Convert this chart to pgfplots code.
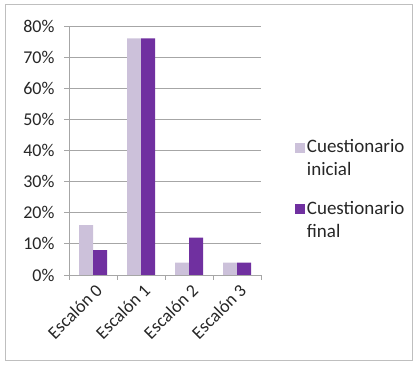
\documentclass[border=0pt]{standalone}
\usepackage{fontspec}
\setmainfont{Carlito}
\usepackage{pgfplots}
\pgfplotsset{compat=1.18}
\definecolor{inicial}{HTML}{CCC1DA}
\definecolor{final}{HTML}{7030A0}
\definecolor{gridgray}{HTML}{A6A6A6}
\definecolor{framegray}{HTML}{BFBFBF}

\begin{document}
\begin{tikzpicture}[x=1pt,y=1pt]
\path[use as bounding box] (0,0) rectangle (417,366);
\draw[framegray, line width=1pt] (5,5) rectangle (412,361);
\begin{axis}[
  at={(69pt,91pt)}, anchor=south west,
  scale only axis, width=192pt, height=249pt,
  xmin=-0.5, xmax=3.5, ymin=0, ymax=80,
  axis x line*=bottom, axis y line*=left,
  axis line style={gridgray,-},
  /pgf/number format/assume math mode=true,
  ytick={0,10,...,80},
  yticklabel={\pgfmathprintnumber{\tick}\%},
  ymajorgrids, grid style={gridgray, line width=0.8pt},
  xtick={0,1,2,3},
  xticklabels={Escalón 0, Escalón 1, Escalón 2, Escalón 3},
  minor xtick={-0.5,0.5,1.5,2.5,3.5},
  tick align=outside,
  major tick length=5pt, minor tick length=5pt,
  major x tick style={draw=none},
  tick style={gridgray, line width=0.8pt},
  minor tick style={gridgray, line width=0.8pt},
  ticklabel style={font=\fontsize{18}{20}\selectfont, text=black!85},
  yticklabel style={xshift=-6pt},
  xticklabel style={rotate=45, anchor=north east, inner sep=1pt, yshift=-2pt},
  ybar, bar width=14pt,
  legend style={draw=none, fill=none, at={(1.16,0.56)}, anchor=north west,
    font=\fontsize{19}{23}\selectfont, text=black!85,
    nodes={align=left, anchor=west},
    row sep=20pt},
  legend cell align=left,
  legend image code/.code={\fill[#1,draw=none] (-5pt,6pt) rectangle (5pt,16pt);},
]
\addplot[fill=inicial, draw=none, bar shift=-7pt] coordinates {(0,16) (1,76) (2,4) (3,4)};
\addplot[fill=final, draw=none, bar shift=7pt] coordinates {(0,8) (1,76) (2,12) (3,4)};
\legend{Cuestionario\\inicial, Cuestionario\\final}
\end{axis}
\end{tikzpicture}
\end{document}
